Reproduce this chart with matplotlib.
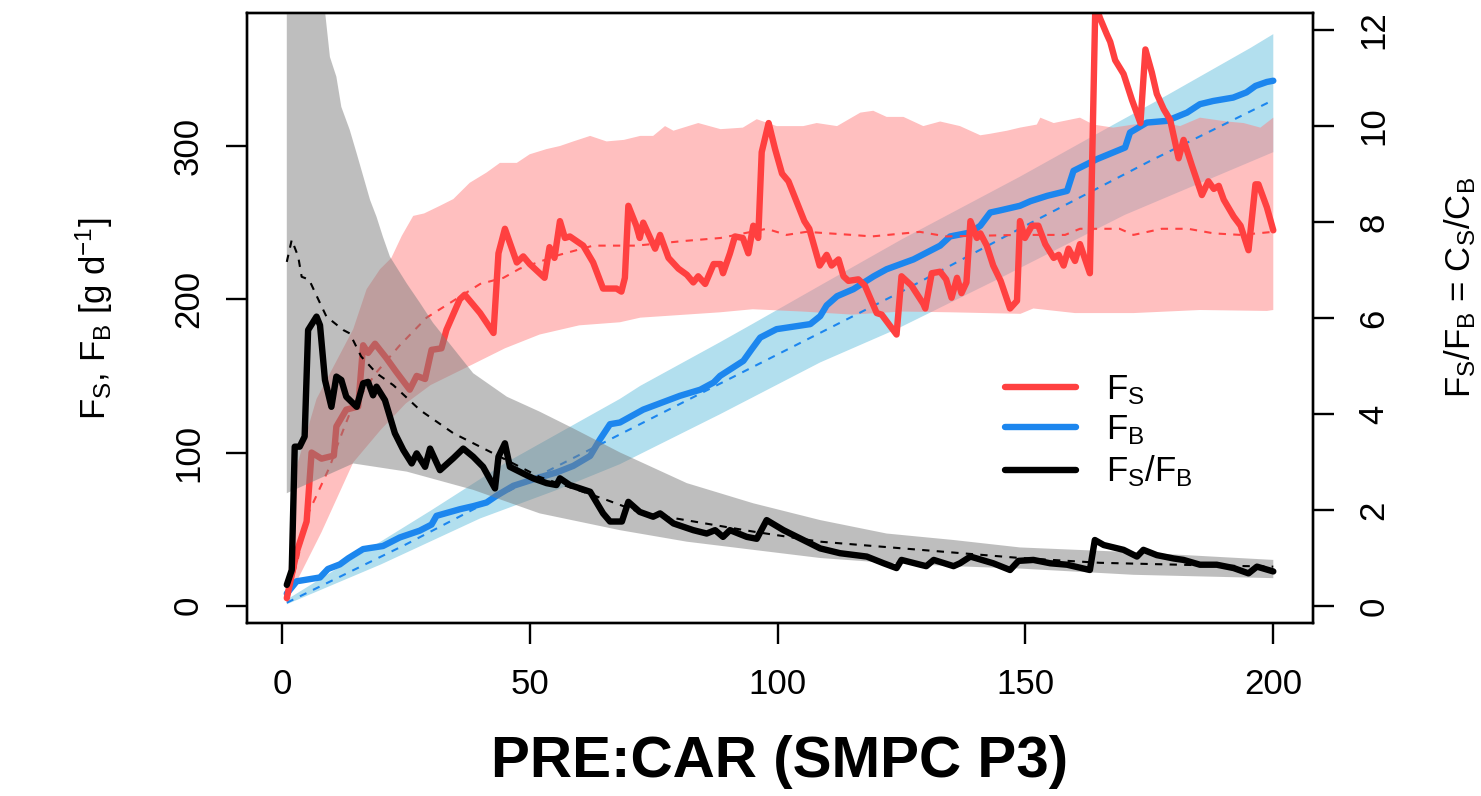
import numpy as np
import matplotlib.pyplot as plt
from matplotlib.lines import Line2D

plt.rcParams['font.family'] = ['Liberation Sans', 'DejaVu Sans']
plt.rcParams['mathtext.fontset'] = 'custom'
plt.rcParams['mathtext.rm'] = 'Liberation Sans'
plt.rcParams['mathtext.it'] = 'Liberation Sans:italic'
plt.rcParams['mathtext.bf'] = 'Liberation Sans:bold'

# observed F_S (sediment flux) [g/d]
fs_day = [1, 3, 5, 6, 8, 10.5, 11, 13, 15.4, 16.4,
          17.4, 18.8, 21, 23, 25.8, 27.2, 28.9, 30.2, 32.2, 33.2,
          35.9, 36.9, 40, 42.7, 43.7, 45, 47.4, 48.7, 50, 53,
          54, 55, 56.1, 57.1, 58.1, 60.8, 62.8, 64.8, 67.5, 68.5,
          69.2, 69.9, 71.5, 72.2, 72.9, 75.3, 76.3, 78, 80, 81.7,
          83, 84, 85.4, 87.1, 88.5, 89, 90.4, 91.4, 93, 94.1,
          95.1, 96.1, 96.8, 98.2, 99.5, 100.9, 102.2, 104.4, 105.4, 106.4,
          108.5, 109.9, 110.9, 112.3, 113.3, 114.3, 116.3, 117.6, 120, 121,
          124, 125, 127, 129.4, 129.8, 131.1, 132.8, 134, 135.1, 136.2,
          137.1, 138.1, 138.9, 140.2, 140.9, 142.2, 143.5, 145, 146.9, 148.3,
          148.9, 149.9, 151.3, 152.6, 154, 155.7, 156.7, 157.7, 158.7, 160,
          161, 163, 164.1, 165.1, 166.4, 167.1, 168.1, 169.8, 171.5, 173.2,
          174.2, 175.5, 176.5, 177.9, 179.2, 180.9, 181.9, 183.6, 185.6, 186.9,
          188, 189, 190, 192, 193.4, 195, 196.4, 197, 198.7, 200]
fs_val = [5, 35, 55, 100, 96, 98, 117, 128, 130, 170,
          165, 171, 162, 153, 141, 150, 148, 167, 168, 180,
          200, 203, 191, 178, 230, 246, 224, 228, 223, 214,
          234, 227, 251, 240, 241, 235, 224, 207, 207, 205,
          214, 261, 248, 240, 250, 233, 242, 227, 220, 216,
          211, 215, 210, 223, 223, 217, 230, 241, 240, 230,
          248, 240, 296, 315, 298, 282, 277, 259, 251, 246,
          222, 229, 222, 226, 215, 212, 213, 209, 191, 190,
          177, 215, 209, 197, 194, 217, 218, 213, 201, 214,
          204, 211, 251, 240, 243, 235, 222, 212, 194, 199,
          251, 240, 248, 248, 236, 227, 229, 222, 233, 225,
          236, 217, 392, 383, 373, 368, 356, 347, 330, 315,
          363, 348, 334, 324, 317, 292, 304, 287, 268, 277,
          272, 274, 265, 254, 248, 232, 275, 275, 260, 245]

# simulated F_S: median and band
fs_med_day = [1, 3.2, 5, 7, 9.7, 11.7, 14, 19, 23.8, 29.2,
              34.6, 40, 44.7, 48, 56, 62.8, 71.5, 81, 88.5, 97.8,
              101.8, 105.8, 115, 119, 128.7, 134, 148.9, 158, 161, 169,
              171.8, 177.5, 182.8, 188, 193.4, 200]
fs_med_val = [3, 30, 58, 72, 91, 109, 128, 152, 170, 188,
              199, 210, 214, 220, 229, 235, 235, 238, 240, 246,
              242, 244, 242, 241, 244, 241, 242, 242, 246, 246,
              242, 246, 246, 243, 242, 244]
fs_hi_day = [1, 3, 7, 14.4, 17.1, 19.8, 22.1, 24.2, 26.5, 28.7,
             31.9, 34.6, 37.9, 41.3, 44, 47.4, 50, 53.4, 56.1, 58.8,
             62.2, 65.5, 69, 72.3, 74.9, 77.3, 79, 84, 88.5, 93,
             95.8, 99.8, 105.2, 107.9, 112, 116.7, 119.3, 122, 125.4, 129.4,
             132.8, 136.8, 140.9, 142.9, 146.3, 148.9, 152.3, 153, 155.7, 161,
             163.7, 167.7, 171.8, 176.5, 181.2, 185.2, 190.6, 194, 197.4, 200]
fs_hi_val = [8, 91, 135, 180.5, 206.6, 219.6, 227, 241.4, 254.4, 256,
             261, 265.4, 276, 282.7, 289, 289, 294.6, 298, 300, 303,
             306.6, 303, 304, 306.6, 306.6, 313, 310, 315, 311, 312,
             317.5, 313, 313, 315, 313, 321.8, 323, 319, 319, 313,
             316, 313, 307, 308, 310, 312, 314, 318.5, 315, 318.5,
             314, 312, 314, 316, 313, 318.5, 316, 315, 312, 318.5]
fs_lo_day = [1, 8, 14.4, 20, 25, 30, 38.6, 45, 52, 60,
             68.2, 72.3, 88.4, 95, 105, 115, 125, 135, 149, 151.6,
             160, 171.8, 185.2, 198.7, 200]
fs_lo_val = [3, 48, 93.5, 115, 132, 144, 157.7, 168, 177, 183,
             185, 188, 191.5, 193.5, 192, 190, 192, 191.5, 190.5, 194,
             191, 191, 193, 192.4, 193]

# observed F_B
fb_day = [1, 3, 7.7, 9.3, 11.7, 13.4, 16.4, 20.4, 23.8, 27.8,
          30.2, 31.2, 35.9, 38.6, 41.3, 43.3, 46.7, 52, 55.4, 58.8,
          62.2, 64.2, 66.2, 68.2, 72.9, 80.3, 84.4, 87.1, 88.4, 93.1,
          94.8, 96.5, 99.8, 106.6, 108.6, 109.9, 112, 115.3, 119.4, 122,
          127.4, 130.1, 132.8, 134.8, 138.9, 140.9, 142.9, 144.9, 148.9, 151,
          154.4, 158.4, 159.7, 164.4, 167.7, 170.1, 171.1, 174.5, 178.5, 182.6,
          185.2, 187.9, 191.9, 194.6, 196.4, 198.7, 200]
fb_val = [8, 16, 18.5, 24, 27, 31, 37, 39, 44.6, 49,
          53, 58.7, 63, 65, 67.4, 71.8, 78.3, 83.8, 87, 91.3,
          97.8, 108.7, 118.5, 119.6, 128, 137, 141, 145.7, 150, 159.8,
          167.5, 175, 180.5, 183.8, 189, 196, 202, 206.6, 215, 219.6,
          226, 230.5, 235, 241, 243.6, 248, 256.6, 258, 261, 264,
          267.5, 270.7, 283.8, 291.4, 295.8, 299, 308.8, 315.3, 316.4, 321.8,
          327.3, 329.4, 331.6, 335, 339.2, 341.8, 342.6]

# simulated F_B
fb_med_day = [1, 25, 50, 75, 100, 125, 150, 175, 200]
fb_med_val = [2, 40, 82, 123, 164, 205, 248, 290, 330]
fb_hi_day = [1, 15, 30, 45, 58.8, 68.2, 72.3, 88.4, 95, 108.6,
             125, 148.9, 167.8, 178.5, 195.4, 200]
fb_hi_val = [4, 32, 62, 93, 118, 135, 143.5, 172, 184, 209,
             239, 280, 314, 333, 364, 373]
fb_lo_day = [1, 20, 40, 55, 68.2, 88.4, 108.6, 124, 145, 170, 200]
fb_lo_val = [1, 27, 57, 75, 92.4, 125, 158.8, 180.5, 214, 255, 296]

# ratio F_S/F_B (right axis)
r_day = [1, 2, 2.6, 3.6, 4.6, 5.3, 7, 7.7, 8.7, 10,
         11, 12, 13, 15.1, 16.4, 17.4, 18.4, 19.1, 20.8, 22.8,
         24.5, 26.2, 27.2, 28.9, 29.9, 31.9, 34.6, 36.6, 38.6, 40.6,
         43, 43.7, 45, 46, 48.7, 50.7, 53.4, 55.4, 56.1, 58.1,
         62.2, 64.8, 66.2, 68.6, 69.9, 72.2, 74.9, 76.3, 79, 83,
         85.7, 87.4, 89, 90.4, 93.8, 95.8, 97.8, 101.2, 105.2, 108.6,
         112.6, 118, 121.4, 124, 125, 128.8, 130, 131.5, 135.5, 136.8,
         138.9, 143.5, 146.9, 148.6, 151.6, 155, 158.4, 163, 164, 165.8,
         169.8, 172.5, 173.8, 176.5, 179.9, 181.9, 185.2, 188.6, 192, 195,
         196.7, 200]
r_val = [0.44, 0.75, 3.32, 3.32, 3.53, 5.75, 6.03, 5.85, 4.71, 4.15,
         4.78, 4.71, 4.36, 4.15, 4.64, 4.67, 4.39, 4.57, 4.29, 3.6,
         3.25, 2.97, 3.18, 2.9, 3.28, 2.83, 3.08, 3.28, 3.11, 2.9,
         2.45, 3.11, 3.39, 2.9, 2.76, 2.66, 2.56, 2.52, 2.66, 2.52,
         2.38, 1.93, 1.76, 1.76, 2.17, 1.96, 1.86, 1.93, 1.72, 1.58,
         1.51, 1.58, 1.44, 1.58, 1.44, 1.4, 1.79, 1.58, 1.375, 1.2,
         1.1, 1.03, 0.89, 0.79, 0.96, 0.86, 0.83, 0.96, 0.83, 0.89,
         1.03, 0.89, 0.75, 0.94, 0.96, 0.89, 0.86, 0.75, 1.375, 1.27,
         1.17, 1.03, 1.17, 1.06, 0.99, 0.96, 0.86, 0.86, 0.79, 0.68,
         0.82, 0.72]
r_med_day = [1, 2, 3.3, 4, 5.5, 7.3, 9, 12.4, 13.7, 16,
             19.1, 22.5, 27.9, 34.6, 44, 52, 65.5, 72.3, 95.1, 108.6,
             128.8, 148.9, 165, 185, 200]
r_med_val = [7.17, 7.63, 7.28, 6.86, 6.8, 6.4, 6.03, 5.75, 5.68, 5.2,
             4.85, 4.6, 4.08, 3.6, 3.11, 2.69, 2.21, 1.95, 1.55, 1.34,
             1.17, 1.0, 0.9, 0.85, 0.82]
r_hi_day = [1, 5, 8.7, 9.7, 11, 12, 13.7, 15.1, 17.8, 19.1,
            20.4, 21.8, 25.2, 27.9, 30.5, 38.6, 45.4, 52, 58.8, 68.2,
            81.7, 95.1, 108.6, 122, 135.5, 148.9, 171.8, 200]
r_hi_val = [25, 16, 12.4, 11.44, 11.03, 10.4, 9.92, 9.43, 8.46, 8.11,
            7.69, 7.28, 6.72, 6.31, 5.9, 4.85, 4.36, 4.05, 3.7, 3.2,
            2.56, 2.14, 1.79, 1.51, 1.375, 1.22, 1.12, 0.96]
r_lo_day = [1, 14.4, 25.2, 38.6, 52, 68.2, 81.7, 95.1, 108.6, 122,
            135.5, 148.9, 171.8, 200]
r_lo_val = [2.35, 2.97, 2.8, 2.42, 1.93, 1.58, 1.34, 1.17, 1.0, 0.9,
            0.83, 0.78, 0.65, 0.58]

RED = '#FF4040'
BLUE = '#1C86EE'


def band(ax, xh, yh, xl, yl, **kw):
    """Polygon between an upper and a lower envelope."""
    xs = np.concatenate([xh, xl[::-1]])
    ys = np.concatenate([yh, yl[::-1]])
    ax.fill(xs, ys, lw=0, **kw)


fig = plt.figure(figsize=(14.81, 7.96), dpi=100)
ax = fig.add_axes([0.1670, 0.2170, 0.7194, 0.7663])

band(ax, fb_hi_day, fb_hi_val, fb_lo_day, fb_lo_val, color='#B2DFEE')
ax.plot(fb_med_day, fb_med_val, color=BLUE, lw=1.5, dashes=(3.5, 3.5))
ax.plot(fb_day, fb_val, color=BLUE, lw=4.6, solid_capstyle='round')

band(ax, fs_hi_day, fs_hi_val, fs_lo_day, fs_lo_val, color='#FF8080', alpha=0.5)
ax.plot(fs_med_day, fs_med_val, color=RED, lw=1.5, dashes=(3.5, 3.5))
ax.plot(fs_day, fs_val, color=RED, lw=4.6, solid_capstyle='round')

ax.set_xlim(-6.96, 207.96)
ax.set_ylim(-11.4, 386.6)
ax.set_xticks([0, 50, 100, 150, 200])
ax.set_yticks([0, 100, 200, 300])

ax2 = ax.twinx()
band(ax2, r_hi_day, r_hi_val, r_lo_day, r_lo_val, color='#7F7F7F', alpha=0.5)
ax2.plot(r_med_day, r_med_val, color='black', lw=1.5, dashes=(3.5, 3.5))
ax2.plot(r_day, r_val, color='black', lw=4.6, solid_capstyle='round')
ax2.set_ylim(-0.36, 12.35)
ax2.set_yticks([0, 2, 4, 6, 8, 10, 12])

for a in (ax, ax2):
    for s in a.spines.values():
        s.set_linewidth(1.7)
ax.tick_params(axis='x', length=15, width=1.7, labelsize=25, pad=17)
ax.tick_params(axis='y', length=15, width=1.7, labelsize=25, pad=15.5)
ax2.tick_params(axis='y', length=15, width=1.7, labelsize=25, pad=17)
for t in ax.get_yticklabels() + ax2.get_yticklabels():
    t.set_rotation(90)
    t.set_va('center')

ax.set_xlabel('PRE:CAR (SMPC P3)', fontsize=42, fontweight='bold')
ax.xaxis.set_label_coords(0.5, -0.2515)
ax.xaxis.label.set_va('baseline')

ax.set_ylabel(r'F$_\mathregular{S}$, F$_\mathregular{B}$ [g d$^\mathregular{-1}$]',
              fontsize=25)
ax.yaxis.set_label_coords(-0.144, 0.5)
ax.yaxis.label.set_va('center')

ax2.set_ylabel(r'F$_\mathregular{S}$/F$_\mathregular{B}$ = C$_\mathregular{S}$/C$_\mathregular{B}$',
               fontsize=25, rotation=90)
ax2.yaxis.set_label_coords(1.138, 0.55)
ax2.yaxis.label.set_va('center')

handles = [Line2D([], [], color=RED, lw=4.6, solid_capstyle='round'),
           Line2D([], [], color=BLUE, lw=4.6, solid_capstyle='round'),
           Line2D([], [], color='black', lw=4.6, solid_capstyle='round')]
labels = [r'F$_\mathregular{S}$', r'F$_\mathregular{B}$',
          r'F$_\mathregular{S}$/F$_\mathregular{B}$']
ax2.legend(handles, labels, loc='upper left', bbox_to_anchor=(0.711, 0.41),
           frameon=False, borderpad=0, borderaxespad=0, fontsize=25,
           handlelength=2.05, handletextpad=0.85, labelspacing=0.19)

fig.savefig('out.png', dpi=100)
